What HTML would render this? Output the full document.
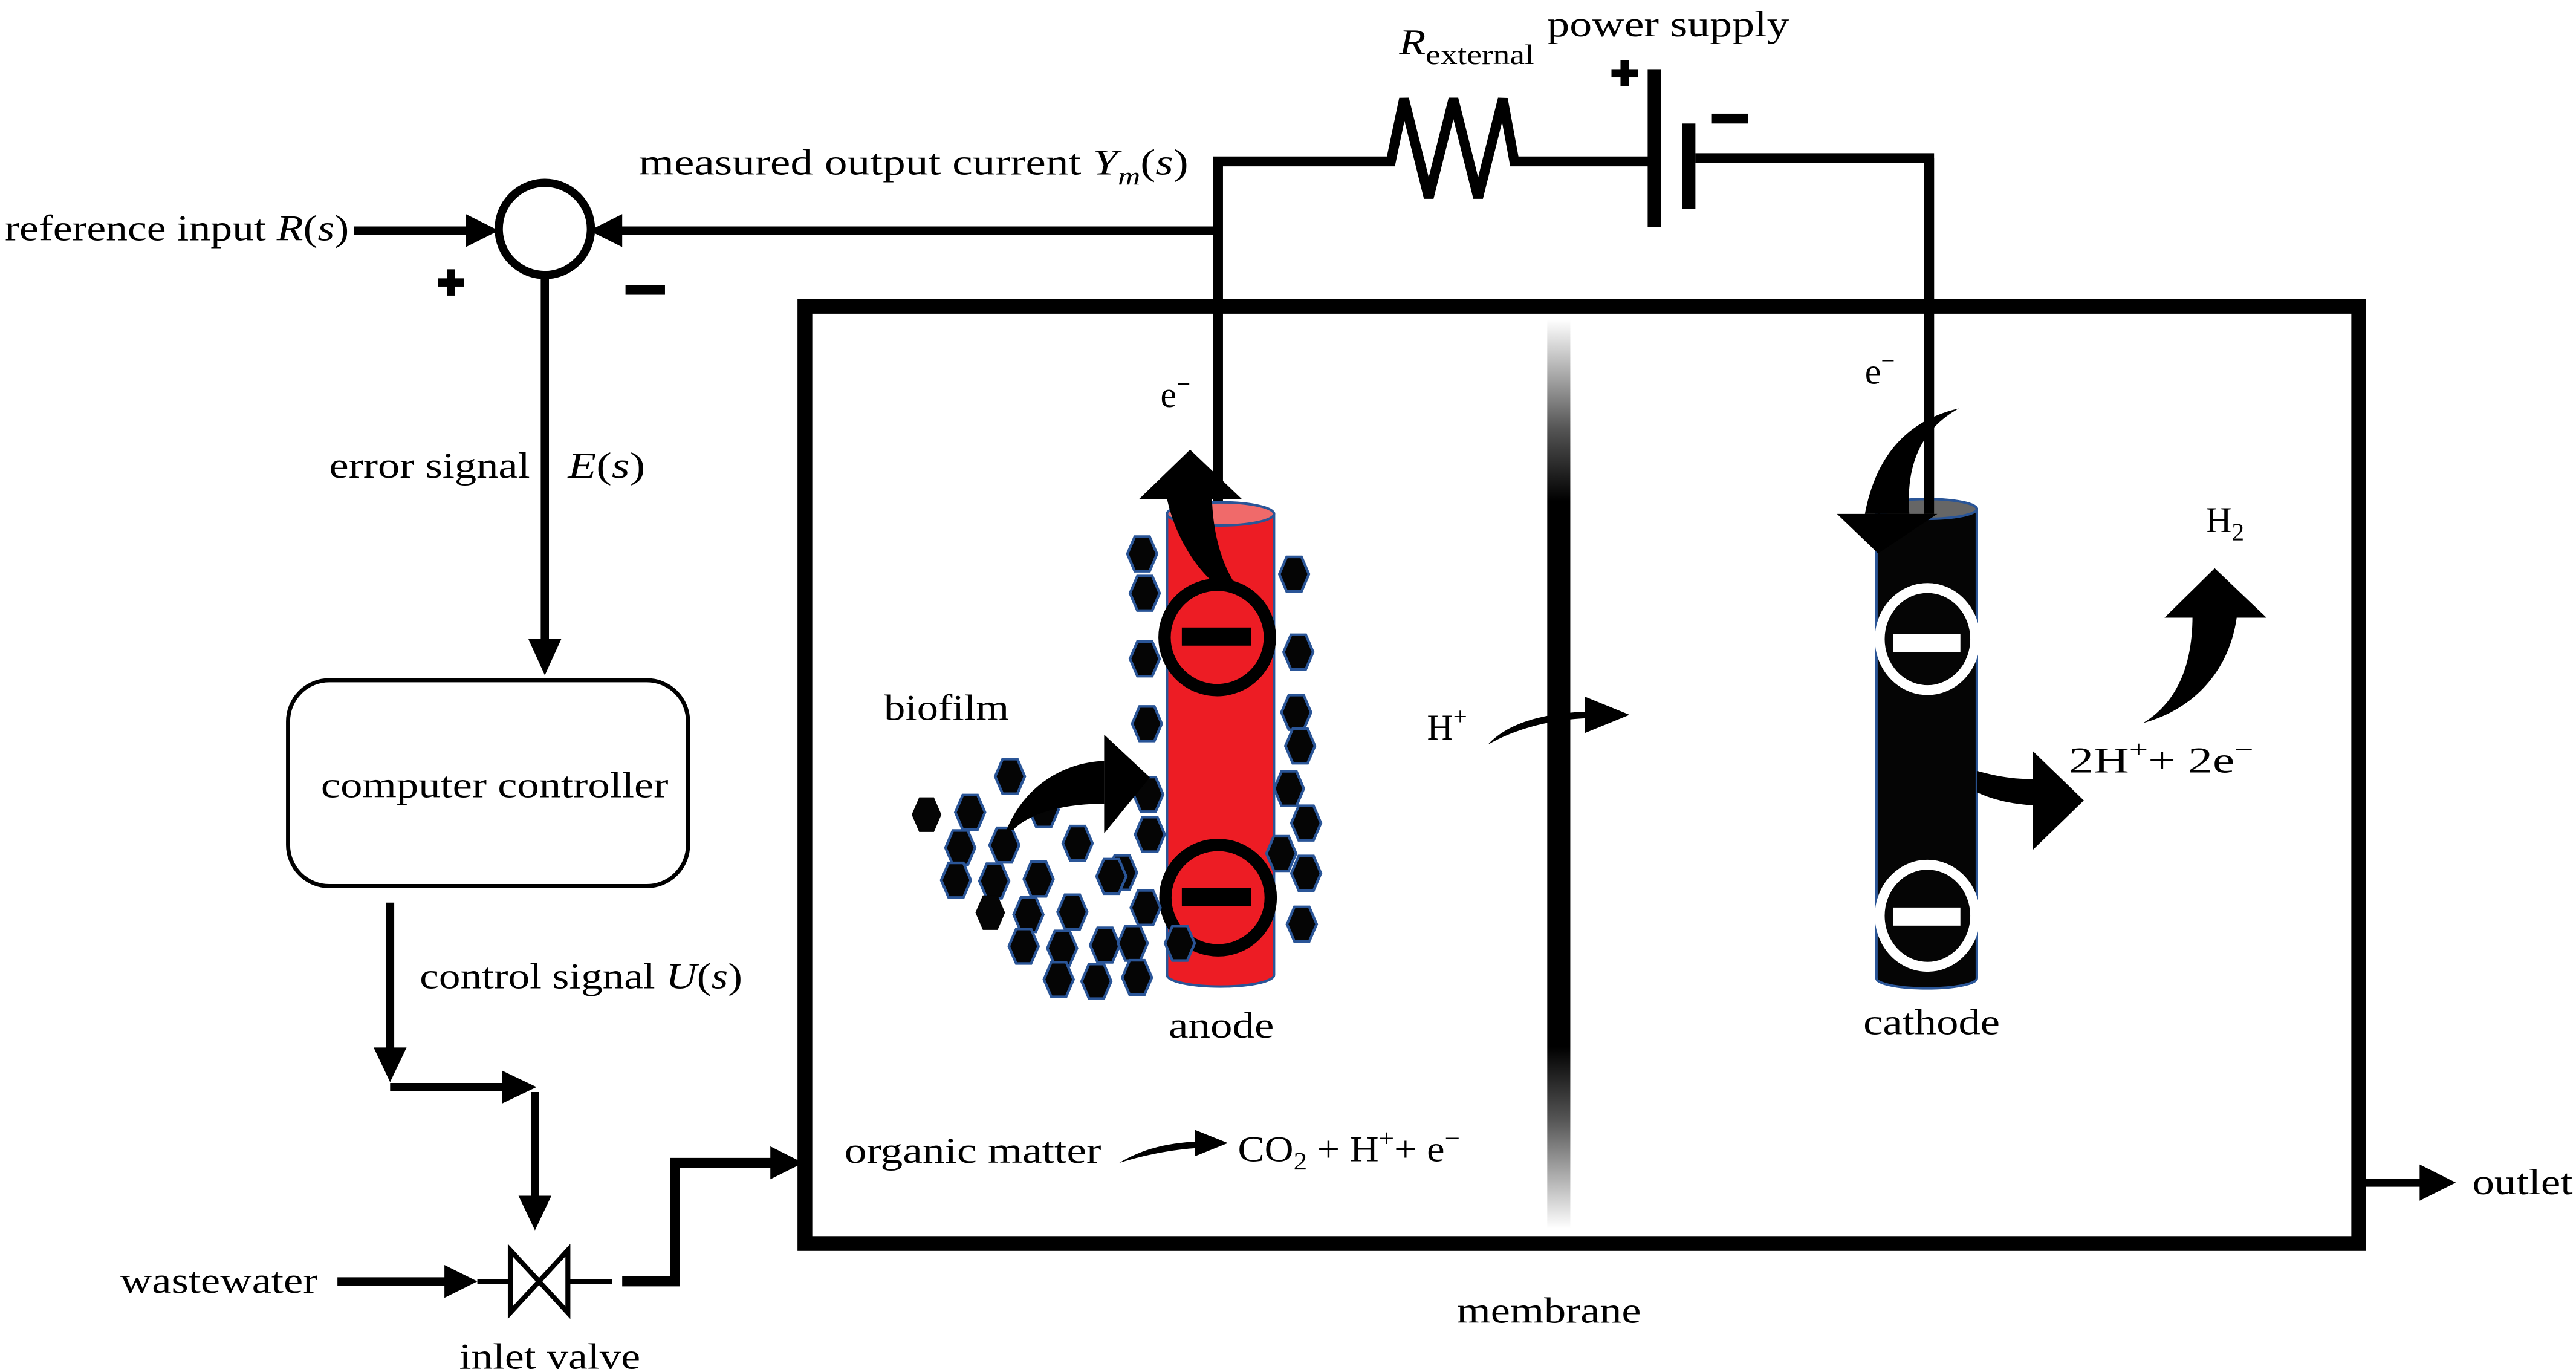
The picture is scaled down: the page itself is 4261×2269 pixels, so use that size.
<!DOCTYPE html>
<html><head><meta charset="utf-8"><style>
html,body{margin:0;padding:0;background:#fff}
svg{display:block}
text{font-family:"Liberation Serif",serif;font-size:22px;fill:#000}
</style></head><body>
<svg width="4261" height="2269" viewBox="0 0 1565 833" preserveAspectRatio="none" xmlns="http://www.w3.org/2000/svg">
<defs>
<linearGradient id="mem" x1="0" y1="0" x2="0" y2="1">
<stop offset="0" stop-color="#fff"/><stop offset="0.12" stop-color="#555"/><stop offset="0.2" stop-color="#000"/><stop offset="0.8" stop-color="#000"/><stop offset="0.88" stop-color="#555"/><stop offset="1" stop-color="#fff"/>
</linearGradient>
<polygon id="hx" points="-9,0 -4.5,-10.5 4.5,-10.5 9,0 4.5,10.5 -4.5,10.5" fill="#050505" stroke="#2a5597" stroke-width="1.6"/>
<polygon id="hs" points="-9,0 -4.5,-10.5 4.5,-10.5 9,0 4.5,10.5 -4.5,10.5" fill="#050505"/>
</defs>

<circle cx="331" cy="139" r="28" fill="#fff" stroke="#000" stroke-width="5"/>
<text x="3" y="146" textLength="209" lengthAdjust="spacingAndGlyphs">reference input <tspan font-style="italic">R</tspan>(<tspan font-style="italic">s</tspan>)</text>
<line x1="215" y1="140" x2="285" y2="140" stroke="#000" stroke-width="5"/>
<polygon points="283,130 303,140 283,150" fill="#000"/>
<rect x="266" y="169" width="16" height="5" fill="#000"/><rect x="271.5" y="163.5" width="5" height="16" fill="#000"/>
<rect x="380" y="173" width="24" height="6" fill="#000"/>
<line x1="740" y1="140" x2="375" y2="140" stroke="#000" stroke-width="5"/>
<polygon points="378,130 358,140 378,150" fill="#000"/>
<text x="388" y="106" textLength="334" lengthAdjust="spacingAndGlyphs">measured output current <tspan font-style="italic">Υ</tspan><tspan font-style="italic" font-size="15" dy="6">m</tspan><tspan dy="-6">(</tspan><tspan font-style="italic">s</tspan>)</text>

<polyline points="740,310 740,98 822,98 845,98 853,60 868,120 883,60 898,120 913,60 920,98 1003,98" fill="none" stroke="#000" stroke-width="6" stroke-linejoin="miter"/>
<rect x="1001" y="42" width="8" height="96" fill="#000"/>
<rect x="1022" y="75" width="8" height="52" fill="#000"/>
<polyline points="1030,96 1172,96 1172,312" fill="none" stroke="#000" stroke-width="6"/>
<rect x="979" y="42" width="16" height="5" fill="#000"/><rect x="984.5" y="36.5" width="5" height="16" fill="#000"/>
<rect x="1040" y="69" width="22" height="6" fill="#000"/>
<text x="850" y="33" textLength="82" lengthAdjust="spacingAndGlyphs"><tspan font-style="italic">R</tspan><tspan font-size="17" dy="6">external</tspan></text>
<text x="940" y="22" textLength="147" lengthAdjust="spacingAndGlyphs">power supply</text>

<line x1="331" y1="168" x2="331" y2="392" stroke="#000" stroke-width="5"/>
<polygon points="321,388 331,410 341,388" fill="#000"/>
<text x="200" y="290" textLength="122" lengthAdjust="spacingAndGlyphs">error signal</text>
<text x="345" y="290" textLength="47" lengthAdjust="spacingAndGlyphs"><tspan font-style="italic">E</tspan>(<tspan font-style="italic">s</tspan>)</text>

<rect x="175" y="413" width="243" height="125" rx="25" fill="#fff" stroke="#000" stroke-width="2.5"/>
<text x="195" y="484" textLength="211" lengthAdjust="spacingAndGlyphs">computer controller</text>

<line x1="237" y1="548" x2="237" y2="640" stroke="#000" stroke-width="5"/>
<polygon points="227,636 237,657 247,636" fill="#000"/>
<polyline points="237,660 307,660" fill="none" stroke="#000" stroke-width="5"/>
<polygon points="305,650 326,660 305,670" fill="#000"/>
<line x1="325" y1="663" x2="325" y2="730" stroke="#000" stroke-width="5"/>
<polygon points="315,726 325,747 335,726" fill="#000"/>
<text x="255" y="600" textLength="196" lengthAdjust="spacingAndGlyphs">control signal <tspan font-style="italic">U</tspan>(<tspan font-style="italic">s</tspan>)</text>

<text x="73" y="785" textLength="120" lengthAdjust="spacingAndGlyphs">wastewater</text>
<line x1="205" y1="778" x2="272" y2="778" stroke="#000" stroke-width="5"/>
<polygon points="270,768 290,778 270,788" fill="#000"/>
<line x1="290" y1="778" x2="310" y2="778" stroke="#000" stroke-width="3"/>
<polygon points="310,759 345,797 345,759 310,797" fill="#fff" stroke="#000" stroke-width="3"/>
<line x1="345" y1="778" x2="372" y2="778" stroke="#000" stroke-width="3"/>
<polyline points="378,778 410,778 410,706 470,706" fill="none" stroke="#000" stroke-width="6"/>
<polygon points="468,696 488,706 468,716" fill="#000"/>
<text x="279" y="831" textLength="110" lengthAdjust="spacingAndGlyphs">inlet valve</text>

<rect x="489" y="186" width="944" height="569" fill="none" stroke="#000" stroke-width="9"/>
<rect x="940" y="194" width="14" height="552" fill="url(#mem)"/>
<text x="885" y="803" textLength="112" lengthAdjust="spacingAndGlyphs">membrane</text>
<line x1="1437" y1="718" x2="1472" y2="718" stroke="#000" stroke-width="5"/>
<polygon points="1470,707 1492,718 1470,729" fill="#000"/>
<text x="1502" y="725" textLength="61" lengthAdjust="spacingAndGlyphs">outlet</text>

<path d="M709,312 L709,592 A32.5,7 0 0 0 774,592 L774,312 Z" fill="#ed1c24" stroke="#2a5597" stroke-width="1.5"/>
<ellipse cx="741.5" cy="312" rx="32.5" ry="7" fill="#f06a6a" stroke="#2a5597" stroke-width="1.5"/>
<circle cx="739.5" cy="387" r="32" fill="#ed1c24" stroke="#000" stroke-width="7.5"/>
<rect x="718" y="381" width="42" height="11" fill="#000"/>
<circle cx="740" cy="545" r="32" fill="#ed1c24" stroke="#000" stroke-width="7.5"/>
<rect x="718" y="539" width="42" height="11" fill="#000"/>
<path d="M709,303 C714,325 725,343 737.6,354 L750.6,355 C741,340 737,322 736.3,303 Z" fill="#000"/>
<polygon points="692,303 723,273 754.5,303" fill="#000"/>
<text x="705" y="247">e<tspan font-size="15" dy="-9">−</tspan></text>

<g>
<use href="#hx" x="693.9" y="336.3"/><use href="#hx" x="695.5" y="360.2"/><use href="#hx" x="695.5" y="400"/>
<use href="#hx" x="696.8" y="439.4"/><use href="#hx" x="697.6" y="482.3"/><use href="#hx" x="698.6" y="506.6"/>
<use href="#hx" x="786.2" y="348.6"/><use href="#hx" x="788.8" y="395.9"/><use href="#hx" x="787.5" y="432.5"/>
<use href="#hx" x="789.9" y="452.9"/><use href="#hx" x="783.1" y="478.8"/><use href="#hx" x="793.5" y="499.7"/>
<use href="#hx" x="778.4" y="518.2"/><use href="#hx" x="793.5" y="530.2"/><use href="#hx" x="790.9" y="561.1"/>
<use href="#hx" x="613.6" y="471.4"/><use href="#hs" x="562.9" y="494.6"/><use href="#hx" x="589.4" y="493.2"/>
<use href="#hx" x="634.1" y="491.6"/><use href="#hx" x="583.4" y="514.7"/><use href="#hx" x="610.2" y="513.1"/>
<use href="#hx" x="654.7" y="512"/><use href="#hx" x="580.8" y="534.4"/><use href="#hx" x="604" y="534.9"/>
<use href="#hx" x="631" y="533.7"/><use href="#hx" x="681.7" y="529.8"/><use href="#hx" x="675.2" y="532.1"/>
<use href="#hs" x="601.6" y="554.1"/><use href="#hx" x="624.8" y="555.3"/><use href="#hx" x="651.5" y="553.7"/>
<use href="#hx" x="696" y="551.1"/><use href="#hx" x="621.9" y="574.5"/><use href="#hx" x="645.3" y="575.7"/>
<use href="#hx" x="671.3" y="573.8"/><use href="#hx" x="688.2" y="572.7"/><use href="#hx" x="716.8" y="572.7"/>
<use href="#hx" x="643.2" y="594.7"/><use href="#hx" x="666.1" y="595.8"/><use href="#hx" x="690.8" y="593.5"/>
</g>
<path d="M611.5,504 C622,478 645,463 670.8,462 L670.8,488 C645,488 625,494 615.4,504 Z" fill="#000"/>
<polygon points="670.8,446 698.6,472 670.8,506" fill="#000"/>
<text x="537" y="437" textLength="76" lengthAdjust="spacingAndGlyphs">biofilm</text>
<text x="710" y="630" textLength="64" lengthAdjust="spacingAndGlyphs">anode</text>

<path d="M904,452 C915,440 935,433 965,432 L965,436 C940,437 920,443 904,452 Z" fill="#000"/>
<polygon points="963,423 990,434 963,445" fill="#000"/>
<text x="867" y="449">H<tspan font-size="15" dy="-9">+</tspan></text>

<text x="513" y="706" textLength="156" lengthAdjust="spacingAndGlyphs">organic matter</text>
<path d="M680,706 C695,697 710,694 728,693 L728,697 C712,698 696,701 680,706 Z" fill="#000"/>
<polygon points="726,686 746,694 726,702" fill="#000"/>
<text x="752" y="705" textLength="135" lengthAdjust="spacingAndGlyphs">CO<tspan font-size="15" dy="5">2</tspan><tspan dy="-5"> + H</tspan><tspan font-size="15" dy="-9">+</tspan><tspan dy="9">+ e</tspan><tspan font-size="15" dy="-9">−</tspan></text>

<path d="M1140,309 L1140,594 A30,6 0 0 0 1201,594 L1201,309 Z" fill="#050505" stroke="#2a5597" stroke-width="1.5"/>
<ellipse cx="1170.5" cy="309" rx="30.5" ry="6" fill="#666" stroke="#2a5597" stroke-width="1.5"/>
<ellipse cx="1171" cy="388" rx="29" ry="31" fill="#050505" stroke="#fff" stroke-width="6"/>
<rect x="1150" y="385" width="41" height="11" fill="#fff"/>
<ellipse cx="1171" cy="556" rx="29" ry="31" fill="#050505" stroke="#fff" stroke-width="6"/>
<rect x="1150" y="551" width="41" height="11" fill="#fff"/>
<path d="M1190,248 C1160,255 1140,275 1133,312 L1160,312 C1158,285 1165,262 1190,248 Z" fill="#000"/>
<polygon points="1116,312 1177,312 1141,336" fill="#000"/>
<line x1="1172" y1="96" x2="1172" y2="312" stroke="#000" stroke-width="6"/>
<text x="1133" y="233">e<tspan font-size="15" dy="-9">−</tspan></text>
<path d="M1201,468 C1215,472 1225,473 1235,473 L1235,489 C1222,488 1212,486 1201,481 Z" fill="#000"/>
<polygon points="1235,456 1266,486 1235,516" fill="#000"/>
<text x="1257" y="469" textLength="112" lengthAdjust="spacingAndGlyphs">2H<tspan font-size="15" dy="-9">+</tspan><tspan dy="9">+ 2e</tspan><tspan font-size="15" dy="-9">−</tspan></text>
<path d="M1302,439 C1325,425 1332,400 1332,374 L1359,374 C1355,405 1335,430 1302,439 Z" fill="#000"/>
<polygon points="1315,375 1345.5,345 1377,375" fill="#000"/>
<text x="1340" y="323">H<tspan font-size="15" dy="5">2</tspan></text>
<text x="1132" y="628" textLength="83" lengthAdjust="spacingAndGlyphs">cathode</text>
</svg>
</body></html>
